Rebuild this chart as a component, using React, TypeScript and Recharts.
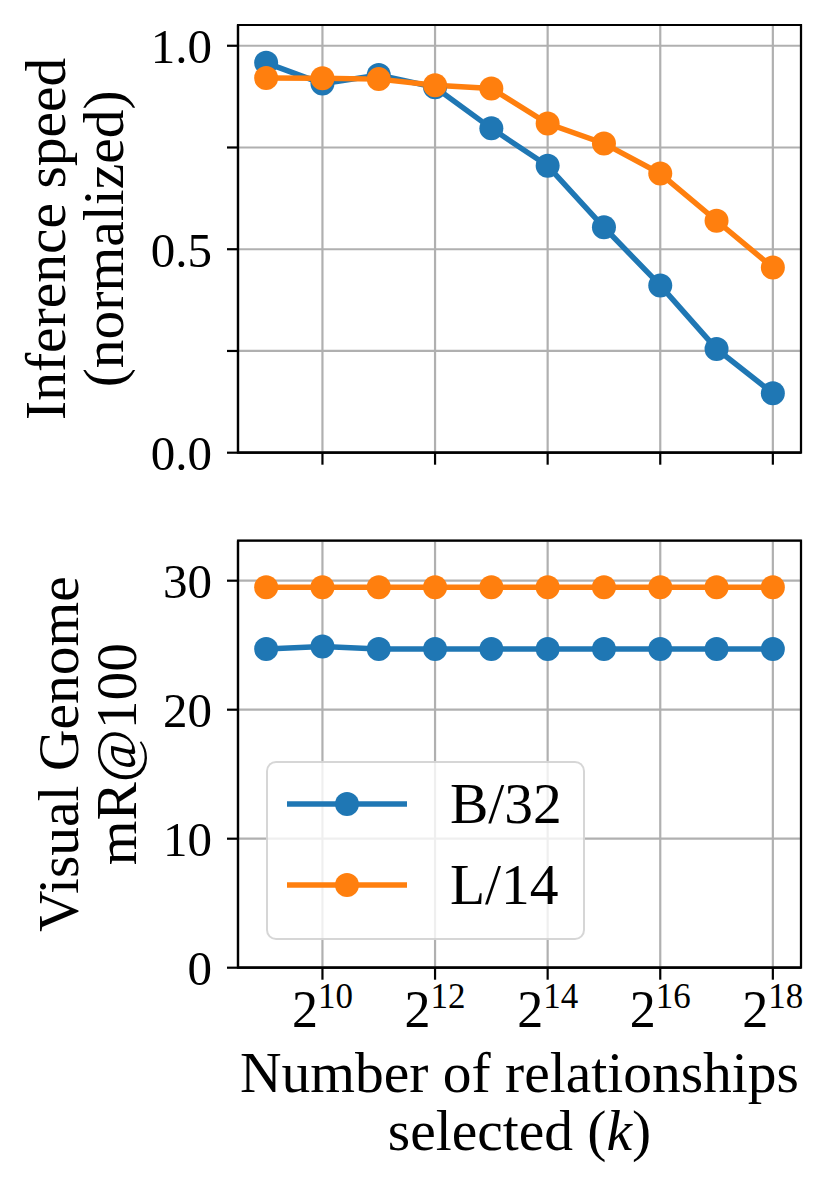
import React from 'react';
import {
  LineChart,
  Line,
  XAxis,
  YAxis,
  CartesianGrid,
  ReferenceArea,
  Legend,
} from 'recharts';

const FONT = '"Liberation Serif", "DejaVu Serif", serif';
const BLUE = '#1f77b4';
const ORANGE = '#ff7f0e';
const GRID = '#b0b0b0';
const LW = 2.2;
const LABEL_SIZE = 57.5;

// log2 of k
const EXPONENTS = [9, 10, 11, 12, 13, 14, 15, 16, 17, 18];
const X_TICKS = [10, 12, 14, 16, 18];

const SPEED_B32 = [0.958, 0.907, 0.928, 0.898, 0.797, 0.705, 0.554, 0.411, 0.255, 0.146];
const SPEED_L14 = [0.921, 0.92, 0.918, 0.903, 0.895, 0.809, 0.76, 0.686, 0.57, 0.455];
const SPEED_TICKS = [0, 0.25, 0.5, 0.75, 1];
const SPEED_LABELS: Record<number, string> = { 0: '0.0', 0.5: '0.5', 1: '1.0' };

const MR_B32 = [24.7, 24.9, 24.7, 24.7, 24.7, 24.7, 24.7, 24.7, 24.7, 24.7];
const MR_L14 = [29.5, 29.5, 29.5, 29.5, 29.5, 29.5, 29.5, 29.5, 29.5, 29.5];
const MR_TICKS = [0, 10, 20, 30];

const speedData = EXPONENTS.map((k, i) => ({ k, b32: SPEED_B32[i], l14: SPEED_L14[i] }));
const mrData = EXPONENTS.map((k, i) => ({ k, b32: MR_B32[i], l14: MR_L14[i] }));

const X_DOMAIN: [number, number] = [8.5, 18.5];
const MARGIN_LEFT = 158;
const Y_WIDTH = 80;

const tickStyle = { fill: '#000', fontSize: 49, fontFamily: FONT };

function yLabel(lines: string[], offsets: number[]) {
  return (props: any) => {
    const vb = props.viewBox;
    const cy = vb.y + vb.height / 2;
    return (
      <g>
        {lines.map((t, i) => {
          const x = vb.x - offsets[i];
          return (
            <text
              key={t}
              x={x}
              y={cy}
              transform={`rotate(-90, ${x}, ${cy})`}
              textAnchor="middle"
              fontFamily={FONT}
              fontSize={LABEL_SIZE}
              fill="#000"
            >
              {t}
            </text>
          );
        })}
      </g>
    );
  };
}

function PowerTick(props: any) {
  const { x, y, payload } = props;
  return (
    <text x={x} y={y + 39} textAnchor="middle" fontFamily={FONT} fill="#000">
      <tspan fontSize={52}>2</tspan>
      <tspan fontSize={35} dy={-19}>
        {payload.value}
      </tspan>
    </text>
  );
}

function XLabel(props: any) {
  const vb = props.viewBox;
  const cx = vb.x + vb.width / 2;
  return (
    <text textAnchor="middle" fontFamily={FONT} fontSize={LABEL_SIZE} fill="#000">
      <tspan x={cx} y={vb.y + 124}>Number of relationships</tspan>
      <tspan x={cx} y={vb.y + 182}>
        selected (<tspan fontStyle="italic">k</tspan>)
      </tspan>
    </text>
  );
}

function LegendBox(props: any) {
  const items = props.payload || [];
  return (
    <div
      style={{
        width: 319,
        height: 179,
        boxSizing: 'border-box',
        border: '2.5px solid rgba(204,204,204,0.8)',
        borderRadius: 10,
        background: 'rgba(255,255,255,0.8)',
      }}
    >
      <svg width={314} height={174} style={{ display: 'block' }}>
        {items.map((it: any, i: number) => {
          const cy = 41 + i * 81;
          return (
            <g key={it.value}>
              <line x1={19} x2={139} y1={cy} y2={cy} stroke={it.color} strokeWidth={5.5} />
              <circle cx={79} cy={cy} r={12} fill={it.color} />
              <text x={182} y={cy + 19} fontFamily={FONT} fontSize={LABEL_SIZE} fill="#000">
                {it.value}
              </text>
            </g>
          );
        })}
      </svg>
    </div>
  );
}

function series(key: string, name: string, color: string) {
  return (
    <Line
      key={key}
      dataKey={key}
      name={name}
      type="linear"
      stroke={color}
      strokeWidth={5.5}
      dot={{ r: 12, fill: color, stroke: color, strokeWidth: 0 }}
      activeDot={false}
      isAnimationActive={false}
    />
  );
}

export default function App() {
  return (
    <div
      style={{
        position: 'absolute',
        left: 0,
        top: 0,
        width: 830,
        height: 1189,
        background: '#fff',
      }}
    >
      <div style={{ position: 'absolute', left: 0, top: 0 }}>
        <LineChart
          width={830}
          height={480}
          data={speedData}
          margin={{ top: 25, right: 29, bottom: 0, left: MARGIN_LEFT }}
        >
          <CartesianGrid stroke={GRID} strokeWidth={LW} />
          <XAxis
            dataKey="k"
            type="number"
            domain={X_DOMAIN}
            ticks={X_TICKS}
            interval={0}
            height={27.3}
            axisLine={{ stroke: '#000', strokeWidth: LW }}
            tickLine={{ stroke: '#000', strokeWidth: LW }}
            tickSize={12}
            tickFormatter={() => ''}
          />
          <YAxis
            type="number"
            domain={[0, 1.051]}
            ticks={SPEED_TICKS}
            interval={0}
            width={Y_WIDTH}
            axisLine={{ stroke: '#000', strokeWidth: LW }}
            tickLine={{ stroke: '#000', strokeWidth: LW }}
            tickSize={11}
            tickMargin={15}
            tick={tickStyle}
            tickFormatter={(v: number) => SPEED_LABELS[v] ?? ''}
            label={{ content: yLabel(['Inference speed', '(normalized)'], [93, 35]) }}
          />
          <ReferenceArea
            x1={X_DOMAIN[0]}
            x2={X_DOMAIN[1]}
            y1={0}
            y2={1.051}
            fill="none"
            stroke="#000"
            strokeWidth={LW}
          />
          {series('b32', 'B/32', BLUE)}
          {series('l14', 'L/14', ORANGE)}
        </LineChart>
      </div>
      <div style={{ position: 'absolute', left: 0, top: 500 }}>
        <LineChart
          width={830}
          height={689}
          data={mrData}
          margin={{ top: 40.7, right: 29, bottom: 0, left: MARGIN_LEFT }}
        >
          <CartesianGrid stroke={GRID} strokeWidth={LW} />
          <XAxis
            dataKey="k"
            type="number"
            domain={X_DOMAIN}
            ticks={X_TICKS}
            interval={0}
            height={221.3}
            axisLine={{ stroke: '#000', strokeWidth: LW }}
            tickLine={{ stroke: '#000', strokeWidth: LW }}
            tickSize={12}
            tickMargin={8}
            tick={<PowerTick />}
            label={{ content: XLabel }}
          />
          <YAxis
            type="number"
            domain={[0, 33.1]}
            ticks={MR_TICKS}
            interval={0}
            width={Y_WIDTH}
            axisLine={{ stroke: '#000', strokeWidth: LW }}
            tickLine={{ stroke: '#000', strokeWidth: LW }}
            tickSize={11}
            tickMargin={15}
            tick={tickStyle}
            label={{ content: yLabel(['Visual Genome', 'mR@100'], [80, 21.5]) }}
          />
          <ReferenceArea
            x1={X_DOMAIN[0]}
            x2={X_DOMAIN[1]}
            y1={0}
            y2={33.1}
            fill="none"
            stroke="#000"
            strokeWidth={LW}
          />
          {series('b32', 'B/32', BLUE)}
          {series('l14', 'L/14', ORANGE)}
          <Legend
            layout="vertical"
            align="center"
            verticalAlign="middle"
            content={<LegendBox />}
            wrapperStyle={{ left: 266, top: 260.7, width: 319, height: 179 }}
          />
        </LineChart>
      </div>
    </div>
  );
}
